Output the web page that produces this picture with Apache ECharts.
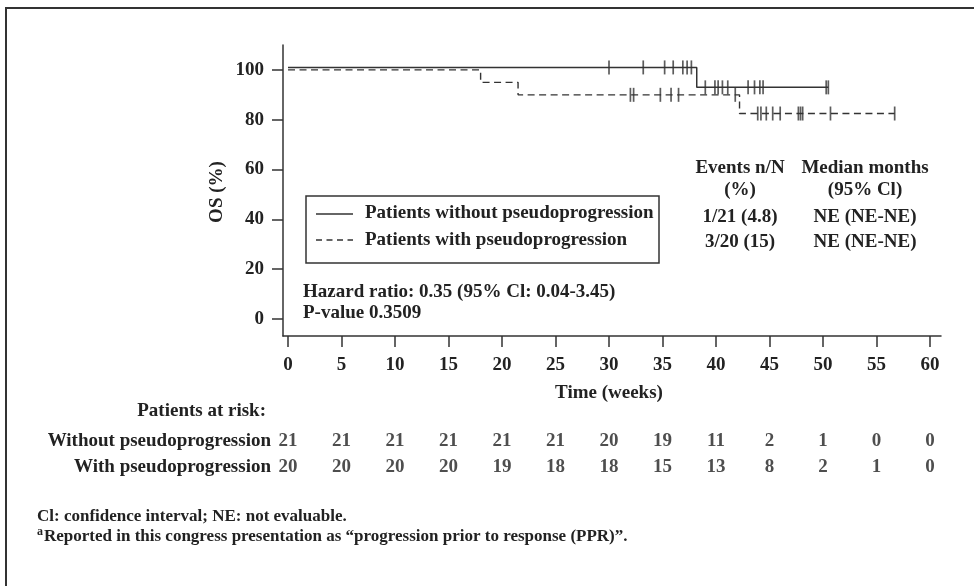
<!DOCTYPE html>
<html>
<head>
<meta charset="utf-8">
<script src="https://cdn.jsdelivr.net/npm/echarts@6/dist/echarts.min.js"></script>
<style>
  html, body { margin: 0; padding: 0; background: #fff; }
  #chart { width: 974px; height: 586px; }
</style>
</head>
<body>
<div id="chart"></div>
<script>
  // Kaplan-Meier steps: [week, OS %]
  let withoutSteps = [[0, 101], [38.2, 93], [50.5, 93]];
  let withSteps = [[0, 100], [18, 95], [21.5, 90], [42.2, 82.5], [56.7, 82.5]];
  // censored times (weeks)
  let withoutCensored = [30.0, 33.2, 35.2, 36.0, 36.9, 37.3, 37.7, 39.0, 39.9, 40.2, 40.6, 41.1, 43.0, 43.6, 44.1, 44.4, 50.3, 50.5];
  let withCensored = [32.0, 32.3, 34.8, 35.8, 36.5, 41.8, 43.9, 44.2, 44.7, 45.3, 46.0, 47.7, 47.9, 48.1, 50.7, 56.7];

  let xTicks = [0, 5, 10, 15, 20, 25, 30, 35, 40, 45, 50, 55, 60];
  let yTicks = [0, 20, 40, 60, 80, 100];

  let seriesNames = ['Patients without pseudoprogression', 'Patients with pseudoprogression'];
  let riskRows = ['Without pseudoprogression', 'With pseudoprogression'];
  let riskWithout = [21, 21, 21, 21, 21, 21, 20, 19, 11, 2, 1, 0, 0];
  let riskWith = [20, 20, 20, 20, 19, 18, 18, 15, 13, 8, 2, 1, 0];

  let font = 'Liberation Serif';
  let ink = '#222';
  let fs = 19;

  function survAt(steps, t) {
    let v = steps[0][1];
    steps.forEach(s => { if (s[0] <= t) v = s[1]; });
    return v;
  }

  let riskData = [];
  xTicks.forEach((t, i) => {
    riskData.push([t, 0, riskWithout[i]]);
    riskData.push([t, 1, riskWith[i]]);
  });

  let txt = (x, y, text, align, size) => ({
    type: 'text', x: x, y: y,
    style: { text: text, font: 'bold ' + (size || fs) + 'px ' + font, fill: ink, align: align || 'left', verticalAlign: 'middle' }
  });
  let seg = (x1, x2, y, dash) => ({
    type: 'line', shape: { x1: x1, y1: y, x2: x2, y2: y },
    style: { stroke: '#333', lineWidth: 1.4, lineDash: dash || null }
  });

  let chart = echarts.init(document.getElementById('chart'));
  chart.setOption({
    animation: false,
    grid: [
      { left: 283, top: 45, width: 658, height: 291 },
      { left: 283, top: 428, width: 658, height: 52 }
    ],
    xAxis: [{
      type: 'value', min: -0.47, max: 61.03,
      splitLine: { show: false },
      axisLine: { onZero: false, lineStyle: { color: '#333', width: 1.5 } },
      axisTick: { customValues: xTicks, length: 11, lineStyle: { color: '#333', width: 1.5 } },
      axisLabel: { customValues: xTicks, margin: 20, fontFamily: font, fontWeight: 'bold', fontSize: fs, color: ink }
    }, {
      type: 'value', gridIndex: 1, min: -0.47, max: 61.03, show: false
    }],
    yAxis: [{
      type: 'value', min: -6.8, max: 110,
      splitLine: { show: false },
      axisLine: { show: true, onZero: false, lineStyle: { color: '#333', width: 1.5 } },
      axisTick: { show: true, customValues: yTicks, length: 11, lineStyle: { color: '#333', width: 1.5 } },
      axisLabel: { customValues: yTicks, margin: 19, fontFamily: font, fontWeight: 'bold', fontSize: fs, color: ink }
    }, {
      type: 'category', gridIndex: 1, inverse: true, data: riskRows,
      axisLine: { show: false }, axisTick: { show: false },
      axisLabel: { margin: 12, fontFamily: font, fontWeight: 'bold', fontSize: fs, color: ink }
    }],
    series: [{
      name: seriesNames[0], type: 'line', step: 'end', symbol: 'none',
      lineStyle: { color: '#333', width: 1.5 },
      data: withoutSteps
    }, {
      name: seriesNames[1], type: 'line', step: 'end', symbol: 'none',
      lineStyle: { color: '#333', width: 1.4, type: [7, 4.5] },
      data: withSteps
    }, {
      type: 'scatter', symbol: 'rect', symbolSize: [1.7, 14],
      itemStyle: { color: '#333' },
      data: withoutCensored.map(t => [t, survAt(withoutSteps, t)])
    }, {
      type: 'scatter', symbol: 'rect', symbolSize: [1.7, 14],
      itemStyle: { color: '#333' },
      data: withCensored.map(t => [t, survAt(withSteps, t)])
    }, {
      type: 'scatter', xAxisIndex: 1, yAxisIndex: 1,
      symbolSize: 1, itemStyle: { color: 'rgba(0,0,0,0)' },
      label: {
        show: true, position: 'inside', formatter: p => p.value[2],
        fontFamily: font, fontWeight: 'bold', fontSize: fs, color: ink
      },
      data: riskData
    }],
    graphic: [
      { type: 'rect', shape: { x: 6, y: 8, width: 990, height: 600 }, style: { fill: 'none', stroke: '#333', lineWidth: 2 } },
      // legend box
      { type: 'rect', shape: { x: 306, y: 196, width: 353, height: 67 }, style: { fill: 'none', stroke: '#333', lineWidth: 1.5 } },
      seg(316, 353, 214),
      seg(316, 353, 240, [6, 4.5]),
      txt(365, 213, seriesNames[0]),
      txt(365, 240, seriesNames[1]),
      { type: 'text', x: 217, y: 192, rotation: Math.PI / 2,
        style: { text: 'OS (%)', font: 'bold ' + fs + 'px ' + font, fill: ink, align: 'center', verticalAlign: 'middle' } },
      txt(609, 393, 'Time (weeks)', 'center'),
      txt(303, 292, 'Hazard ratio: 0.35 (95% Cl: 0.04-3.45)'),
      txt(303, 313, 'P-value 0.3509'),
      txt(740, 168, 'Events n/N', 'center'),
      txt(740, 190, '(%)', 'center'),
      txt(740, 217, '1/21 (4.8)', 'center'),
      txt(740, 242, '3/20 (15)', 'center'),
      txt(865, 168, 'Median months', 'center'),
      txt(865, 190, '(95% Cl)', 'center'),
      txt(865, 217, 'NE (NE-NE)', 'center'),
      txt(865, 242, 'NE (NE-NE)', 'center'),
      txt(266, 411, 'Patients at risk:', 'right'),
      txt(37, 517, 'Cl: confidence interval; NE: not evaluable.', 'left', 17),
      txt(37, 532, 'a', 'left', 12),
      txt(44, 537, 'Reported in this congress presentation as \u201cprogression prior to response (PPR)\u201d.', 'left', 17)
    ]
  });
</script>
</body>
</html>
